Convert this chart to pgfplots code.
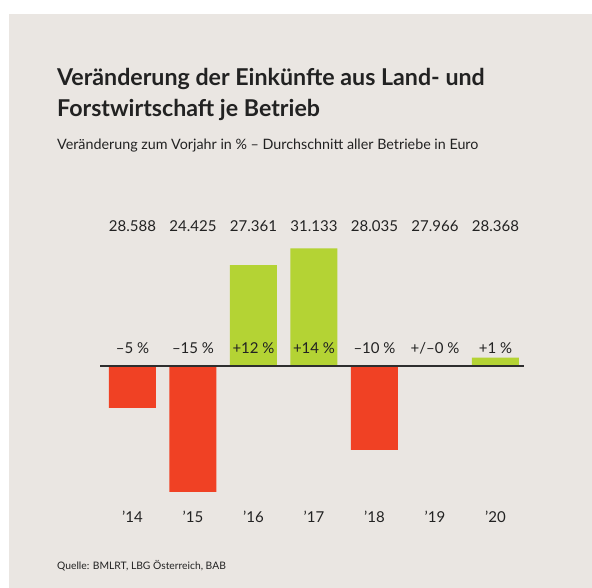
\documentclass[border=0pt]{standalone}
\usepackage{pgfplots}
\usepackage{pgfplotstable}
\pgfplotsset{compat=1.18}
\usepackage{fontspec}
\setmainfont{Lato}

\definecolor{bgbeige}{HTML}{EAE6E2}
\definecolor{barred}{HTML}{F04124}
\definecolor{bargreen}{HTML}{B4D334}
\definecolor{txt}{HTML}{222222}

% idx, change in %, label of the change, income per holding in Euro
\pgfplotstableread[col sep=comma]{
idx,chg,pct,inc
0,-5,{–5 \%},28.588
1,-15,{–15 \%},24.425
2,12,{+12 \%},27.361
3,14,{+14 \%},31.133
4,-10,{–10 \%},28.035
5,0,{+/–0 \%},27.966
6,1,{+1 \%},28.368
}\einkuenfte

\begin{document}
\begin{tikzpicture}[x=1pt,y=1pt]
  % page and panel
  \fill[white] (0,0) rectangle (592,588);
  \fill[bgbeige] (9,0) rectangle (592,574);

  % headings
  \node[anchor=base west, inner sep=0, text=txt, font=\fontsize{23.2}{28}\selectfont\bfseries]
    at (57,502) {Veränderung der Einkünfte aus Land- und};
  \node[anchor=base west, inner sep=0, text=txt, font=\fontsize{23.2}{28}\selectfont\bfseries]
    at (57,471) {Forstwirtschaft je Betrieb};
  \node[anchor=base west, inner sep=0, text=txt, font=\fontsize{14.3}{17}\selectfont]
    at (57,438) {Veränderung zum Vorjahr in \% – Durchschnitt aller Betriebe in Euro};
  \node[anchor=base west, inner sep=0, text=txt, font=\fontsize{10.3}{13}\selectfont]
    at (57,18) {Quelle: BMLRT, LBG Österreich, BAB};

  \begin{axis}[
      at={(100pt,54pt)}, anchor=south west,
      x=60.5pt, y=8.4pt,
      xmin=-0.537, xmax=6.47,
      ymin=-20, ymax=20,
      hide axis, clip=false,
      unbounded coords=discard,
    ]
    % growth (green) and decline (red)
    \addplot[ybar, bar width=47pt, bar shift=0pt, fill=bargreen, draw=none,
             y filter/.expression={y>0 ? y : nan}]
      table[x=idx, y=chg] {\einkuenfte};
    \addplot[ybar, bar width=47pt, bar shift=0pt, fill=barred, draw=none,
             y filter/.expression={y<0 ? y : nan}]
      table[x=idx, y=chg] {\einkuenfte};

    % zero line
    \addplot[line width=1.6pt, color=black!82, mark=none]
      coordinates {(-0.537,0) (6.47,0)};

    % change labels just above the zero line
    \addplot[draw=none, mark=none, nodes near coords, point meta=explicit symbolic,
             every node near coord/.append style={anchor=base, inner sep=0pt,
               text=txt, font=\fontsize{15}{18}\selectfont}]
      table[x=idx, y expr=1.45, meta=pct] {\einkuenfte};

    % income per holding above the chart
    \addplot[draw=none, mark=none, nodes near coords, point meta=explicit symbolic,
             every node near coord/.append style={anchor=base, inner sep=0pt,
               text=txt, font=\fontsize{15}{18}\selectfont}]
      table[x=idx, y expr=16.0, meta=inc] {\einkuenfte};

    % year labels
    \addplot[draw=none, mark=none, nodes near coords, point meta=explicit symbolic,
             every node near coord/.append style={anchor=base, inner sep=0pt,
               text=txt, font=\fontsize{15}{18}\selectfont}]
      table[x=idx, y expr=-18.65, meta=yr] {
idx yr
0 ’14
1 ’15
2 ’16
3 ’17
4 ’18
5 ’19
6 ’20
};
  \end{axis}
\end{tikzpicture}
\end{document}
